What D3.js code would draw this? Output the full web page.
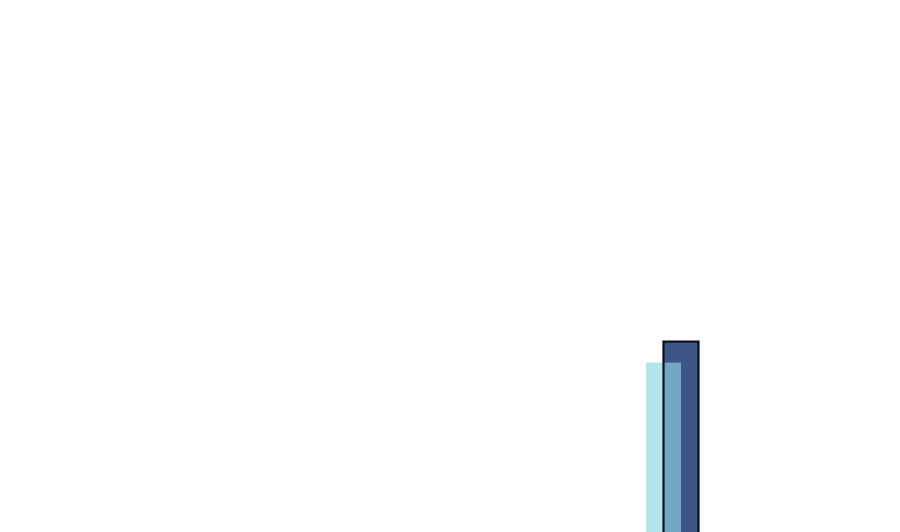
<!DOCTYPE html>
<html>
<head>
<meta charset="utf-8">
<script src="https://cdn.jsdelivr.net/npm/d3@7"></script>
<style>
  html, body { margin: 0; padding: 0; background: #fff; overflow: hidden; }
  svg { display: block; }
</style>
</head>
<body>
<svg></svg>
<script>
// data
var categories = ["A"];
var lightValues = [48.2];
var darkValues = [51.2];

var width = 900;
var height = 532;
var baseline = 700; // chart floor sits below the visible window

var svg = d3.select("svg").attr("width", width).attr("height", height);

var x = d3.scaleBand().domain(categories).range([646, 698.5]).padding(0);
var y = d3.scaleLinear().domain([0, 100]).range([baseline, 0]);

var barW = x.bandwidth() / 1.5;
var shift = x.bandwidth() / 3;

var data = categories.map(function (c, i) {
    return {cat: c, light: lightValues[i], dark: darkValues[i]};
});

var g = svg.append("g");

// dark series
g.selectAll(".dark")
  .data(data)
  .enter().append("rect")
    .attr("class", "dark")
    .attr("x", function (d) { return x(d.cat) + shift; })
    .attr("y", function (d) { return y(d.dark); })
    .attr("width", barW)
    .attr("height", function (d) { return baseline - y(d.dark); })
    .attr("fill", "#3d568a");

// light series, drawn over with some transparency
g.selectAll(".light")
  .data(data)
  .enter().append("rect")
    .attr("class", "light")
    .attr("x", function (d) { return x(d.cat); })
    .attr("y", function (d) { return y(d.light); })
    .attr("width", barW)
    .attr("height", function (d) { return baseline - y(d.light); })
    .attr("fill", "#8dd4e2")
    .attr("fill-opacity", 0.65);

// outline of the dark series on top
g.selectAll(".outline")
  .data(data)
  .enter().append("rect")
    .attr("class", "outline")
    .attr("x", function (d) { return x(d.cat) + shift; })
    .attr("y", function (d) { return y(d.dark); })
    .attr("width", barW)
    .attr("height", function (d) { return baseline - y(d.dark); })
    .attr("fill", "none")
    .attr("stroke", "#0a0f1a")
    .attr("stroke-width", 2.2);
</script>
</body>
</html>
